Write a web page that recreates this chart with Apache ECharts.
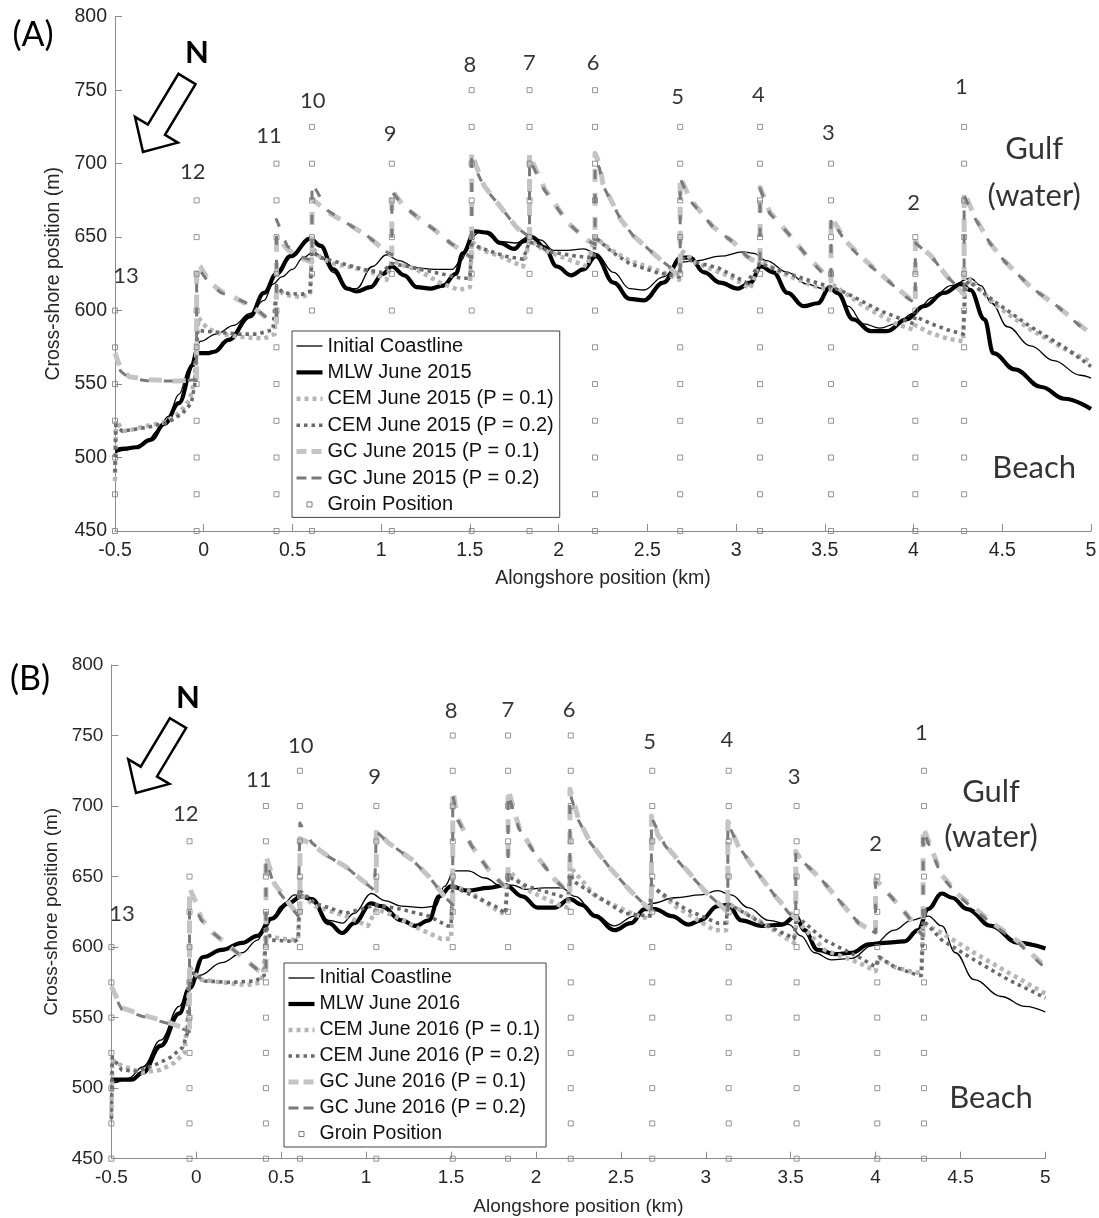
<!DOCTYPE html>
<html>
<head>
<meta charset="utf-8">
<script src="https://cdn.jsdelivr.net/npm/echarts/dist/echarts.min.js"></script>
<style>
  html, body { margin: 0; padding: 0; background: #fff; }
  #chart { width: 1099px; height: 1218px; }
</style>
</head>
<body>
<div id="chart"></div>
<script>
// ---- Groins: alongshore position (km), top of the marker column (m), number ----
const groinKm  = [4.285, 4.01, 3.535, 3.135, 2.685, 2.205, 1.836, 1.51, 1.06, 0.61, 0.41, -0.04, -0.5];
const groinTop = [725, 650, 700, 725, 725, 750, 750, 750, 700, 725, 700, 675, 600];
const groinNo  = ['1','2','3','4','5','6','7','8','9','10','11','12','13'];
const groinBase = 450, groinStep = 25;

// Groin number labels (km, m)
const labelKm  = [4.27, 4.0, 3.52, 3.125, 2.67, 2.195, 1.835, 1.5, 1.05, 0.615, 0.368, -0.062, -0.438];
const labelVal = [752, 673.5, 720.7, 746.7, 745.6, 768.5, 768.3, 767.2, 720.5, 742.4, 718.7, 694.5, 623.7];

// Side annotations
const sideText = ['Gulf', '(water)', 'Beach'];
const sideKm   = [4.68, 4.68, 4.68];
const sideVal  = [710, 678, 493];

// ---- Panel (A): June 2015 ----
const initialA = [[-0.5,503],[-0.44,505],[-0.38,507],[-0.32,511],[-0.26,518],[-0.2,528],[-0.14,543],[-0.08,561],[-0.04,575],[-0.02,579],[0.07,584],[0.17,590],[0.26,598],[0.34,607],[0.39,618],[0.44,623],[0.5,628],[0.56,636],[0.62,640],[0.66,637],[0.73,626],[0.8,615],[0.86,615],[0.95,630],[1.03,638],[1.1,634],[1.2,629],[1.3,628],[1.4,628],[1.45,634],[1.51,650],[1.56,654],[1.67,647],[1.76,646],[1.84,651],[1.9,648],[1.97,641],[2.05,641],[2.14,642],[2.21,639],[2.31,626],[2.4,615],[2.48,614],[2.59,623],[2.69,633],[2.78,634],[2.91,637],[3.04,640],[3.1,639],[3.17,634],[3.29,626],[3.4,618],[3.49,615],[3.55,616],[3.63,603],[3.72,591],[3.81,588],[3.9,591],[4.0,598],[4.11,609],[4.21,617],[4.32,622],[4.38,617],[4.44,605],[4.53,589],[4.66,576],[4.79,566],[4.94,556],[5.0,554]];
const mlwA = [[-0.5,505],[-0.45,506],[-0.38,507],[-0.3,512],[-0.22,523],[-0.14,537],[-0.06,563],[-0.04,571],[0.02,571],[0.06,572],[0.14,580],[0.26,596],[0.34,612],[0.41,625],[0.49,637],[0.6,649],[0.66,644],[0.73,628],[0.81,615],[0.86,613],[0.94,616],[1.01,625],[1.06,630],[1.13,624],[1.2,616],[1.28,615],[1.35,617],[1.42,625],[1.46,639],[1.53,654],[1.6,653],[1.67,646],[1.75,642],[1.8,647],[1.85,650],[1.92,643],[1.99,630],[2.07,624],[2.14,628],[2.21,637],[2.31,619],[2.4,608],[2.48,607],[2.59,619],[2.69,636],[2.74,636],[2.82,626],[2.91,619],[3.01,615],[3.08,619],[3.14,630],[3.21,626],[3.29,612],[3.38,603],[3.46,605],[3.53,616],[3.57,612],[3.66,594],[3.76,586],[3.85,586],[3.96,594],[4.06,603],[4.17,612],[4.27,618],[4.32,614],[4.4,594],[4.45,571],[4.57,560],[4.72,548],[4.85,540],[5.0,533]];
const cem1A = [[-0.5,484],[-0.495,525],[-0.45,518],[-0.4,519],[-0.34,521],[-0.22,524],[-0.14,530],[-0.08,539],[-0.05,553],[-0.04,576],[-0.03,595],[0.02,588],[0.1,584],[0.22,582],[0.34,581],[0.4,584],[0.41,616],[0.45,611],[0.55,609],[0.6,612],[0.61,643],[0.66,636],[0.73,632],[0.85,629],[0.95,626],[1.03,621],[1.06,634],[1.12,631],[1.2,628],[1.33,619],[1.44,614],[1.5,616],[1.51,647],[1.57,641],[1.67,637],[1.8,630],[1.836,648],[1.92,641],[2.05,635],[2.16,630],[2.205,650],[2.3,641],[2.4,634],[2.59,626],[2.68,621],[2.69,641],[2.78,632],[2.97,623],[3.08,615],[3.135,634],[3.25,626],[3.43,617],[3.53,614],[3.54,618],[3.72,603],[3.9,591],[4.0,587],[4.01,590],[4.09,585],[4.19,581],[4.28,579],[4.29,614],[4.32,621],[4.47,603],[4.66,587],[4.85,574],[5.0,565]];
const cem2A = [[-0.5,490],[-0.495,522],[-0.46,518],[-0.4,519],[-0.3,521],[-0.2,524],[-0.12,530],[-0.07,537],[-0.05,550],[-0.04,576],[-0.035,587],[0.0,586],[0.1,585],[0.2,584],[0.3,584],[0.39,587],[0.41,616],[0.45,612],[0.55,611],[0.6,613],[0.61,640],[0.66,636],[0.75,633],[0.9,628],[1.0,626],[1.06,632],[1.15,630],[1.3,626],[1.45,622],[1.5,622],[1.51,645],[1.6,641],[1.7,637],[1.8,635],[1.836,647],[1.95,640],[2.1,637],[2.2,636],[2.205,650],[2.3,640],[2.4,632],[2.55,626],[2.68,623],[2.69,636],[2.8,632],[2.9,629],[3.06,619],[3.135,632],[3.25,627],[3.4,621],[3.535,616],[3.62,612],[3.81,600],[4.0,591],[4.01,596],[4.1,591],[4.19,587],[4.28,584],[4.29,616],[4.31,620],[4.47,605],[4.66,589],[4.85,575],[5.0,562]];
const gc1A = [[-0.5,571],[-0.47,561],[-0.42,555],[-0.3,553],[-0.15,552],[-0.04,553],[-0.04,632],[-0.02,630],[0.035,619],[0.1,613],[0.17,609],[0.28,602],[0.355,595],[0.41,592],[0.41,650],[0.47,642],[0.54,636],[0.61,633],[0.61,676],[0.7,667],[0.8,660],[0.92,651],[1.03,640],[1.06,638],[1.06,682],[1.12,672],[1.2,664],[1.3,655],[1.39,646],[1.51,636],[1.51,708],[1.53,700],[1.58,685],[1.67,671],[1.76,657],[1.836,649],[1.836,707],[1.86,699],[1.92,683],[2.05,660],[2.16,648],[2.205,645],[2.205,707],[2.23,700],[2.25,686],[2.35,662],[2.42,651],[2.57,635],[2.685,623],[2.685,691],[2.74,676],[2.87,657],[2.99,646],[3.06,637],[3.135,631],[3.135,684],[3.19,667],[3.29,653],[3.4,637],[3.49,626],[3.535,620],[3.535,664],[3.62,647],[3.72,635],[3.85,621],[3.96,610],[4.01,605],[4.01,647],[4.1,637],[4.19,623],[4.285,611],[4.285,681],[4.34,665],[4.43,646],[4.51,634],[4.66,616],[4.81,603],[5.0,584]];
const gc2A = [[-0.5,569],[-0.47,559],[-0.42,554],[-0.3,552],[-0.15,552],[-0.04,553],[-0.04,622],[-0.02,627],[0.035,618],[0.1,612],[0.17,609],[0.28,603],[0.355,595],[0.41,593],[0.41,662],[0.47,644],[0.54,637],[0.61,634],[0.61,687],[0.7,668],[0.8,660],[0.92,651],[1.03,640],[1.06,638],[1.06,681],[1.12,672],[1.2,664],[1.3,655],[1.39,646],[1.51,636],[1.51,703],[1.53,697],[1.58,684],[1.67,671],[1.76,657],[1.836,650],[1.836,703],[1.86,697],[1.92,682],[2.05,660],[2.16,648],[2.205,645],[2.205,702],[2.23,697],[2.25,685],[2.35,662],[2.42,651],[2.57,635],[2.685,624],[2.685,690],[2.74,675],[2.87,657],[2.99,646],[3.06,637],[3.135,632],[3.135,683],[3.19,666],[3.29,653],[3.4,637],[3.49,625],[3.535,621],[3.535,663],[3.62,646],[3.72,634],[3.85,621],[3.96,609],[4.01,605],[4.01,646],[4.1,637],[4.19,623],[4.285,612],[4.285,678],[4.34,664],[4.43,646],[4.51,634],[4.66,616],[4.81,603],[5.0,583]];

// ---- Panel (B): June 2016 ----
const initialB = [[-0.5,503],[-0.48,504],[-0.4,507],[-0.315,515],[-0.21,534],[-0.1,558],[-0.04,573],[0.02,580],[0.15,589],[0.27,596],[0.36,605],[0.41,614],[0.45,621],[0.5,629],[0.58,637],[0.66,634],[0.78,619],[0.86,617],[0.93,624],[1.03,638],[1.11,633],[1.21,629],[1.33,628],[1.41,629],[1.46,643],[1.52,654],[1.6,654],[1.7,649],[1.8,643],[1.86,644],[1.94,641],[2.05,642],[2.15,642],[2.23,636],[2.35,623],[2.46,615],[2.58,622],[2.68,631],[2.82,635],[2.97,637],[3.07,640],[3.15,637],[3.25,628],[3.37,619],[3.49,616],[3.56,608],[3.64,596],[3.74,591],[3.86,592],[3.98,601],[4.11,612],[4.21,619],[4.31,622],[4.39,615],[4.47,596],[4.58,577],[4.74,565],[4.88,558],[5.0,554]];
const mlwB = [[-0.5,506],[-0.45,506],[-0.38,506],[-0.315,511],[-0.21,530],[-0.1,553],[-0.04,571],[0.04,593],[0.15,598],[0.27,603],[0.36,608],[0.44,620],[0.54,631],[0.62,636],[0.68,634],[0.78,617],[0.86,610],[0.93,617],[1.03,631],[1.09,629],[1.21,619],[1.29,615],[1.37,619],[1.43,636],[1.5,643],[1.6,640],[1.72,642],[1.82,644],[1.92,636],[2.01,628],[2.11,628],[2.2,634],[2.27,630],[2.35,622],[2.46,612],[2.56,617],[2.64,627],[2.7,627],[2.8,622],[2.9,616],[2.97,619],[3.07,629],[3.13,630],[3.21,619],[3.33,615],[3.45,616],[3.53,622],[3.58,612],[3.66,598],[3.76,595],[3.86,596],[3.96,602],[4.05,603],[4.17,604],[4.25,612],[4.31,627],[4.39,638],[4.45,635],[4.54,627],[4.68,615],[4.84,603],[5.0,599]];
const cem1B = [[-0.5,480],[-0.495,520],[-0.44,516],[-0.32,511],[-0.21,513],[-0.13,518],[-0.07,525],[-0.05,551],[-0.04,586],[0.02,577],[0.15,575],[0.3,573],[0.38,575],[0.4,586],[0.41,615],[0.42,608],[0.5,606],[0.58,605],[0.6,606],[0.61,638],[0.7,629],[0.88,622],[1.01,615],[1.06,627],[1.17,622],[1.33,612],[1.44,606],[1.5,606],[1.51,643],[1.6,640],[1.76,627],[1.82,623],[1.836,655],[1.94,641],[2.15,629],[2.19,628],[2.2,657],[2.35,636],[2.58,623],[2.67,620],[2.68,644],[2.82,629],[3.05,612],[3.12,612],[3.13,631],[3.31,619],[3.49,605],[3.52,603],[3.535,619],[3.7,598],[3.9,589],[4.0,583],[4.02,593],[4.11,586],[4.23,582],[4.27,582],[4.28,617],[4.39,610],[4.58,596],[4.78,582],[5.0,567]];
const cem2B = [[-0.5,478],[-0.495,522],[-0.44,513],[-0.35,512],[-0.25,516],[-0.15,522],[-0.08,529],[-0.05,540],[-0.04,583],[0.05,576],[0.2,575],[0.35,576],[0.4,580],[0.41,615],[0.44,605],[0.58,604],[0.6,606],[0.61,640],[0.7,631],[0.88,624],[1.06,630],[1.2,627],[1.37,622],[1.48,615],[1.5,615],[1.51,643],[1.6,638],[1.76,629],[1.82,624],[1.836,650],[1.95,643],[2.15,636],[2.19,634],[2.2,652],[2.23,646],[2.52,624],[2.67,622],[2.68,643],[2.88,627],[3.07,617],[3.12,617],[3.13,631],[3.33,617],[3.49,608],[3.52,606],[3.535,622],[3.7,605],[3.9,593],[4.0,586],[4.02,593],[4.11,586],[4.25,580],[4.27,580],[4.28,619],[4.39,605],[4.58,591],[4.78,577],[5.0,564]];
const gc1B = [[-0.5,572],[-0.44,557],[-0.32,552],[-0.17,547],[-0.04,541],[-0.04,642],[0.0,631],[0.03,620],[0.1,610],[0.19,601],[0.29,591],[0.37,583],[0.41,580],[0.41,665],[0.46,645],[0.54,632],[0.61,621],[0.61,677],[0.68,673],[0.78,664],[0.88,657],[0.97,648],[1.06,640],[1.06,683],[1.13,674],[1.27,662],[1.37,650],[1.46,636],[1.51,630],[1.51,711],[1.54,691],[1.62,672],[1.72,655],[1.79,646],[1.836,641],[1.836,712],[1.9,685],[1.99,667],[2.11,648],[2.2,638],[2.2,712],[2.25,691],[2.32,674],[2.43,657],[2.54,642],[2.64,630],[2.68,626],[2.68,693],[2.72,679],[2.8,667],[2.9,653],[3.0,639],[3.13,625],[3.13,689],[3.19,672],[3.29,655],[3.41,636],[3.53,620],[3.53,668],[3.56,662],[3.68,648],[3.8,631],[3.9,617],[4.0,610],[4.0,648],[4.09,636],[4.19,622],[4.28,608],[4.28,685],[4.39,651],[4.49,637],[4.68,618],[4.84,604],[5.0,586]];
const gc2B = [[-0.5,570],[-0.44,556],[-0.32,551],[-0.17,546],[-0.06,541],[-0.04,540],[-0.04,628],[0.0,626],[0.03,619],[0.1,610],[0.19,601],[0.29,591],[0.37,583],[0.41,581],[0.41,662],[0.46,643],[0.54,631],[0.6,622],[0.61,621],[0.61,688],[0.68,674],[0.78,664],[0.88,657],[0.97,648],[1.05,640],[1.06,640],[1.06,682],[1.13,674],[1.27,662],[1.37,650],[1.46,636],[1.51,630],[1.51,708],[1.54,690],[1.62,672],[1.72,655],[1.79,646],[1.836,640],[1.836,709],[1.9,684],[1.99,667],[2.11,648],[2.17,641],[2.2,638],[2.2,709],[2.25,690],[2.32,674],[2.43,657],[2.54,642],[2.64,630],[2.68,625],[2.68,692],[2.76,672],[2.88,655],[3.01,638],[3.09,629],[3.13,625],[3.13,688],[3.19,672],[3.29,655],[3.41,636],[3.49,624],[3.53,620],[3.53,667],[3.56,662],[3.68,648],[3.8,631],[3.9,617],[4.0,610],[4.0,646],[4.09,636],[4.19,622],[4.25,612],[4.28,608],[4.28,683],[4.39,650],[4.49,636],[4.68,617],[4.84,603],[5.0,585]];

// ---- Styles ----
const TICK_FONT = 'Liberation Sans';
const NOTE_FONT = 'Lato';
const AXIS_GRAY = '#8c8c8c';

const styles = {
  initial: { color: '#000', width: 1.3, type: 'solid', smooth: 0.4 },
  mlw:     { color: '#000', width: 4.2, type: 'solid', smooth: 0.4 },
  cem1:    { color: '#b6b6b6', width: 4.5, type: [4, 4], smooth: false },
  cem2:    { color: '#6a6a6a', width: 3.6, type: [3.5, 4], smooth: false },
  gc1:     { color: '#c4c4c4', width: 5, type: [13, 11], smooth: false },
  gc2:     { color: '#7a7a7a', width: 3, type: [9, 15], smooth: false, offset: 10 }
};

function lineSeries(name, data, idx, st) {
  return {
    type: 'line', name: name, data: data,
    xAxisIndex: idx, yAxisIndex: idx,
    symbol: 'none', showSymbol: false,
    smooth: st.smooth, smoothMonotone: st.smooth ? 'x' : undefined,
    lineStyle: { color: st.color, width: st.width, type: st.type, dashOffset: st.offset || 0, cap: 'butt', join: 'round' },
    itemStyle: { color: st.color },
    silent: true, animation: false, z: 2
  };
}

function groinSeries(idx) {
  const pts = [];
  for (let i = 0; i < groinKm.length; i++) {
    for (let v = groinBase; v <= groinTop[i]; v += groinStep) pts.push([groinKm[i], v]);
  }
  return {
    type: 'scatter', name: 'Groin Position', data: pts,
    xAxisIndex: idx, yAxisIndex: idx,
    symbol: 'rect', symbolSize: 5,
    itemStyle: { color: 'rgba(255,255,255,0)', borderColor: '#7a7a7a', borderWidth: 1 },
    silent: true, animation: false, z: 3
  };
}

function textSeries(idx, kms, vals, texts, size) {
  return {
    type: 'scatter', name: 'notes' + idx + size,
    data: kms.map((k, i) => ({ value: [k, vals[i]], name: texts[i] })),
    xAxisIndex: idx, yAxisIndex: idx,
    symbol: 'circle', symbolSize: 1,
    itemStyle: { color: 'rgba(0,0,0,0)' },
    label: { show: true, position: 'inside', formatter: p => p.name,
             fontFamily: NOTE_FONT, fontSize: size, color: '#000' },
    silent: true, animation: false, z: 4
  };
}

function axisPair(idx, fs, xGap, yGap) {
  const common = {
    gridIndex: idx, type: 'value',
    axisLine: { show: true, onZero: false, lineStyle: { color: AXIS_GRAY, width: 1 } },
    axisTick: { show: true, inside: true, length: 7, lineStyle: { color: AXIS_GRAY, width: 1 } },
    splitLine: { show: false },
    nameLocation: 'middle',
    nameTextStyle: { fontFamily: TICK_FONT, fontSize: fs, color: '#262626' }
  };
  return {
    x: Object.assign({}, common, {
      min: -0.5, max: 5, interval: 0.5,
      axisLabel: { margin: 10, fontFamily: TICK_FONT, fontSize: fs, color: '#262626' },
      name: 'Alongshore position (km)', nameGap: xGap
    }),
    y: Object.assign({}, common, {
      min: 450, max: 800, interval: 50,
      axisLabel: { margin: 8, fontFamily: TICK_FONT, fontSize: fs, color: '#262626' },
      name: 'Cross-shore position (m)', nameGap: yGap
    })
  };
}

const groinIcon = 'path://M0,0M26,14M10.5,4.5L15.5,4.5L15.5,9.5L10.5,9.5Z';

function legendFor(idx, year, left, top, fs, gap) {
  return {
    orient: 'vertical', left: left, top: top,
    padding: [5, 6, 3, 2],
    borderColor: '#444', borderWidth: 1, backgroundColor: '#fff',
    itemWidth: 26, itemHeight: 14, itemGap: gap,
    selectedMode: false, z: 10,
    textStyle: { fontFamily: TICK_FONT, fontSize: fs, color: '#111', lineHeight: 20 },
    lineStyle: { width: 'inherit' },
    itemStyle: { opacity: 0 },
    data: [
      'Initial Coastline',
      'MLW June ' + year,
      'CEM June ' + year + ' (P = 0.1)',
      'CEM June ' + year + ' (P = 0.2)',
      { name: 'GC June ' + year + ' (P = 0.1)', lineStyle: { type: [10, 5], dashOffset: 0 } },
      { name: 'GC June ' + year + ' (P = 0.2)', lineStyle: { type: [10, 5], dashOffset: 0 } },
      { name: 'Groin Position', icon: groinIcon,
        itemStyle: { opacity: 1, color: '#fff', borderColor: '#7a7a7a', borderWidth: 1 } }
    ]
  };
}

function panelSeries(idx, year, d) {
  return [
    lineSeries('Initial Coastline', d.init, idx, styles.initial),
    lineSeries('MLW June ' + year, d.mlw, idx, styles.mlw),
    lineSeries('CEM June ' + year + ' (P = 0.1)', d.cem1, idx, styles.cem1),
    lineSeries('CEM June ' + year + ' (P = 0.2)', d.cem2, idx, styles.cem2),
    lineSeries('GC June ' + year + ' (P = 0.1)', d.gc1, idx, styles.gc1),
    lineSeries('GC June ' + year + ' (P = 0.2)', d.gc2, idx, styles.gc2),
    groinSeries(idx),
    textSeries(idx, labelKm, labelVal, groinNo, 22),
    textSeries(idx, sideKm, sideVal, sideText, 31)
  ];
}

// North arrow outline (tail centre -> tip)
function arrowPoints(tail, tip, shaftHalf, headHalf, headLen) {
  const dx = tip[0] - tail[0], dy = tip[1] - tail[1];
  const L = Math.hypot(dx, dy);
  const ux = dx / L, uy = dy / L, nx = -uy, ny = ux;
  const local = [[0, -shaftHalf], [L - headLen, -shaftHalf], [L - headLen, -headHalf], [L, 0],
                 [L - headLen, headHalf], [L - headLen, shaftHalf], [0, shaftHalf]];
  return local.map(p => [tail[0] + ux * p[0] + nx * p[1], tail[1] + uy * p[0] + ny * p[1]]);
}

function txt(x, y, text, font) {
  return { type: 'text', x: x, y: y, silent: true, z: 20,
    style: { text: text, font: font, fill: '#000', textAlign: 'center',
             textVerticalAlign: 'middle', verticalAlign: 'middle' } };
}

const axA = axisPair(0, 19.5, 38, 34);
const axB = axisPair(1, 19, 39, 35);

const option = {
  backgroundColor: '#fff',
  animation: false,
  grid: [
    { left: 115, top: 16.7, width: 976, height: 514.3, containLabel: false, outerBoundsMode: 'none' },
    { left: 111.4, top: 665, width: 934, height: 493.7, containLabel: false, outerBoundsMode: 'none' }
  ],
  xAxis: [axA.x, axB.x],
  yAxis: [axA.y, axB.y],
  legend: [
    legendFor(0, '2015', 292, 331, 20, 6.4),
    legendFor(1, '2016', 284, 963, 19.5, 6)
  ],
  series: []
    .concat(panelSeries(0, '2015', { init: initialA, mlw: mlwA, cem1: cem1A, cem2: cem2A, gc1: gc1A, gc2: gc2A }))
    .concat(panelSeries(1, '2016', { init: initialB, mlw: mlwB, cem1: cem1B, cem2: cem2B, gc1: gc1B, gc2: gc2B })),
  graphic: [
    txt(33, 35, '(A)', '34px Lato'),
    txt(30, 679, '(B)', '34px Lato'),
    txt(197, 53, 'N', 'bold 31px Lato'),
    txt(188, 698, 'N', 'bold 31px Lato'),
    { type: 'polygon', silent: true, z: 20,
      shape: { points: arrowPoints([187, 79], [143, 152], 10, 25, 26) },
      style: { fill: '#fff', stroke: '#000', lineWidth: 2.5 } },
    { type: 'polygon', silent: true, z: 20,
      shape: { points: arrowPoints([178, 723], [136, 793], 9.5, 24, 25) },
      style: { fill: '#fff', stroke: '#000', lineWidth: 2.5 } }
  ]
};

const chart = echarts.init(document.getElementById('chart'), null, { renderer: 'canvas' });
chart.setOption(option);
</script>
</body>
</html>
